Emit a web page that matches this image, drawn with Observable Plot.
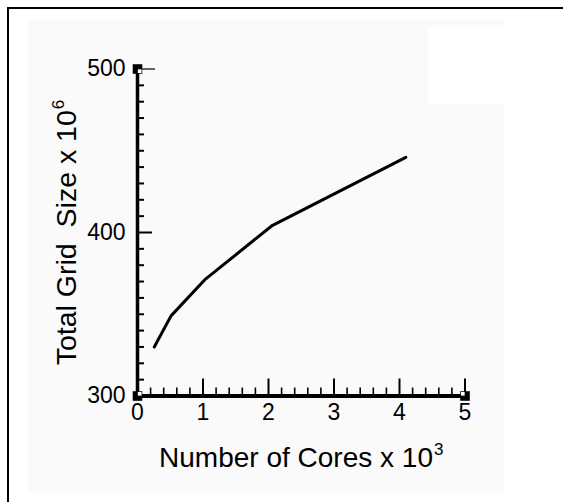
<!DOCTYPE html>
<html>
<head>
<meta charset="utf-8">
<script src="https://cdn.jsdelivr.net/npm/d3@7"></script>
<script src="https://cdn.jsdelivr.net/npm/@observablehq/plot@0.6"></script>
<style>
  html, body { margin: 0; padding: 0; background: #ffffff; overflow: hidden; }
  #wrap { position: relative; width: 563px; height: 502px; overflow: hidden; background: #ffffff; }
  #frame { position: absolute; left: 7px; top: 7px; width: 700px; height: 700px; border: 2px solid #000; box-sizing: border-box; }
  #panel { position: absolute; left: 28px; top: 20px; width: 476px; height: 473px; background: #fafafa; }
  #blank { position: absolute; left: 428px; top: 27px; width: 76px; height: 77px; background: #ffffff; }
  #chart { position: absolute; left: 0; top: 0; }
  #chart svg { background: transparent; }
</style>
</head>
<body>
<div id="wrap">
  <div id="frame"></div>
  <div id="panel"></div>
  <div id="blank"></div>
  <div id="chart"></div>
</div>
<script>
// ---- data ----
const cores = [0.256, 0.512, 1.024, 2.048, 4.096];      // Number of cores x 10^3
const gridSize = [330, 349, 371, 404, 446];              // Total grid size x 10^6

// ---- tick values ----
const xLabelTicks = [0, 1, 2, 3, 4, 5];
const xMajorTicks = [1, 2, 3, 4, 5];
const xMinorTicks = d3.range(0, 26).map(i => i / 5).filter(v => v > 0 && Math.abs(v - Math.round(v)) > 1e-9);
const yLabelTicks = [300, 400, 500];
const yMajorTicks = [400];
const yTopTick = [500];
const yMinorTicks = d3.range(310, 500, 10).filter(v => v !== 400);

const xLabel = "Number of Cores x 10";
const xLabelSup = "3";
const yLabel = "Total Grid  Size x 10";
const yLabelSup = "6";

const data = cores.map((c, i) => ({cores: c, size: gridSize[i]}));
const cornerBL = [{x: 0, y: 300}];
const cornerBR = [{x: 5, y: 300}];
const cornerTL = [{x: 0, y: 500}];

const font = "'Liberation Sans', Arial, Helvetica, sans-serif";

const chart = Plot.plot({
  width: 563,
  height: 502,
  marginLeft: 137,
  marginRight: 98.5,
  marginTop: 68.5,
  marginBottom: 106.5,
  style: {background: "transparent", fontFamily: font, color: "#000"},
  x: {domain: [0, 5]},
  y: {domain: [300, 500]},
  marks: [
    // minor / major ticks pointing inward
    Plot.axisX({ticks: xMinorTicks, tickSize: -8, tickFormat: () => "", strokeWidth: 1.6, anchor: "bottom"}),
    Plot.axisX({ticks: xMajorTicks, tickSize: -17, tickFormat: () => "", strokeWidth: 2, anchor: "bottom"}),
    Plot.axisY({ticks: yMinorTicks, tickSize: -7, tickFormat: () => "", strokeWidth: 2, anchor: "left"}),
    Plot.axisY({ticks: yMajorTicks, tickSize: -15, tickFormat: () => "", strokeWidth: 2, anchor: "left"}),
    Plot.axisY({ticks: yTopTick, tickSize: -18, tickFormat: () => "", strokeWidth: 1.2, anchor: "left"}),
    // tick labels
    Plot.text(xLabelTicks, {x: d => d, frameAnchor: "bottom", lineAnchor: "top", dy: 8, fontSize: 23, text: d => String(d)}),
    Plot.text(yLabelTicks, {y: d => d, frameAnchor: "left", textAnchor: "end", dx: -12, fontSize: 23, text: d => String(d)}),
    // axis lines
    Plot.ruleY([300], {stroke: "#000", strokeWidth: 4}),
    Plot.ruleX([0], {stroke: "#000", strokeWidth: 3.5}),
    // corner markers
    Plot.dot([...cornerBL, ...cornerBR, ...cornerTL], {x: "x", y: "y", symbol: "square", r: 5.4, fill: "#000", stroke: null}),
    Plot.dot(cornerBL, {x: "x", y: "y", dx: 2.2, dy: -2.2, symbol: "square", r: 2.1, fill: "#fff", stroke: null}),
    Plot.dot(cornerBR, {x: "x", y: "y", dx: -2.2, dy: -2.2, symbol: "square", r: 2.1, fill: "#fff", stroke: null}),
    Plot.dot(cornerTL, {x: "x", y: "y", dx: 2.2, dy: 2.2, symbol: "square", r: 2.1, fill: "#fff", stroke: null}),
    // data line
    Plot.line(data, {x: "cores", y: "size", stroke: "#000", strokeWidth: 3, strokeLinejoin: "round"}),
    // axis titles
    Plot.text([xLabel], {frameAnchor: "bottom", dy: 71, fontSize: 28, textAnchor: "middle", lineAnchor: "bottom", className: "xtitle"}),
    Plot.text([yLabel], {frameAnchor: "left", dx: -62, rotate: -90, fontSize: 28.5, textAnchor: "middle", lineAnchor: "bottom", className: "ytitle"})
  ]
});

document.getElementById("chart").appendChild(chart);

// superscripts + preserve double space
const svg = d3.select(chart);
svg.selectAll(".xtitle text").style("white-space", "pre")
  .append("tspan").attr("dy", "-0.7em").attr("dx", "1").style("font-size", "17px").text(xLabelSup);
svg.selectAll(".ytitle text").style("white-space", "pre")
  .append("tspan").attr("dy", "-0.7em").attr("dx", "1").style("font-size", "17px").text(yLabelSup);
</script>
</body>
</html>
